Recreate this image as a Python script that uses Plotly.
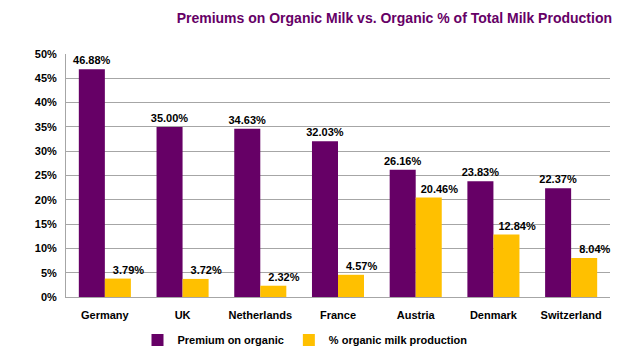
import plotly.graph_objects as go

categories = ["Germany", "UK", "Netherlands", "France", "Austria", "Denmark", "Switzerland"]
premium = [46.88, 35.00, 34.63, 32.03, 26.16, 23.83, 22.37]
organic_share = [3.79, 3.72, 2.32, 4.57, 20.46, 12.84, 8.04]
tick_vals = [0, 5, 10, 15, 20, 25, 30, 35, 40, 45, 50]
tick_text = [f"<b>{v}%</b>" for v in tick_vals]

FONT = "Liberation Sans, Arial"
lab_font = dict(family=FONT, size=11, color="#000000")
NB = "\u00a0" * 7  # pushes the yellow labels slightly right, as in the reference

# page body has an 8px margin, so the figure is sized/placed to compensate
W, H = 617, 349

fig = go.Figure()
fig.add_bar(x=categories, y=premium, name="<b>Premium on organic</b>", marker_color="#660066",
            marker_line_width=0,
            text=[f"<b>{v:.2f}%</b>" for v in premium], textposition="outside",
            textfont=lab_font, cliponaxis=False, constraintext="none")
fig.add_bar(x=categories, y=organic_share, name="<b>% organic milk production</b>", marker_color="#FFC000",
            marker_line_width=0,
            text=[f"<b>{NB}{v:.2f}%</b>" for v in organic_share], textposition="outside",
            textfont=lab_font, cliponaxis=False, constraintext="none")

fig.update_layout(
    width=W, height=H,
    paper_bgcolor="white", plot_bgcolor="white",
    margin=dict(l=58, r=15, t=46, b=60, autoexpand=False),
    barmode="group", bargap=0.33, bargroupgap=0,
    title=dict(text="<b>Premiums on Organic Milk vs. Organic % of Total Milk Production</b>",
               x=604 / W, xanchor="right", xref="container", y=1 - 10 / H, yanchor="middle", yref="container",
               font=dict(family=FONT, size=14, color="#660066")),
    legend=dict(orientation="h", x=297 / W, xanchor="center", xref="container",
                y=1 - 332 / H, yanchor="middle", yref="container",
                font=dict(family=FONT, size=11, color="#000"),
                itemwidth=30, traceorder="normal"),
    showlegend=True,
)
fig.update_xaxes(showline=True, linecolor="#A6A6A6", linewidth=1, ticks="",
                 tickfont=dict(family=FONT, size=11, color="#000"),
                 ticklabelstandoff=8,
                 tickvals=categories, ticktext=[f"<b>{c}</b>" for c in categories])
fig.update_yaxes(range=[0, 50], tickvals=tick_vals, ticktext=tick_text,
                 showgrid=True, gridcolor="#A6A6A6", gridwidth=1,
                 showline=True, linecolor="#A6A6A6", linewidth=1,
                 ticks="", ticklabelstandoff=6,
                 tickfont=dict(family=FONT, size=11, color="#000"),
                 zeroline=False)
fig.write_html("out.html")
